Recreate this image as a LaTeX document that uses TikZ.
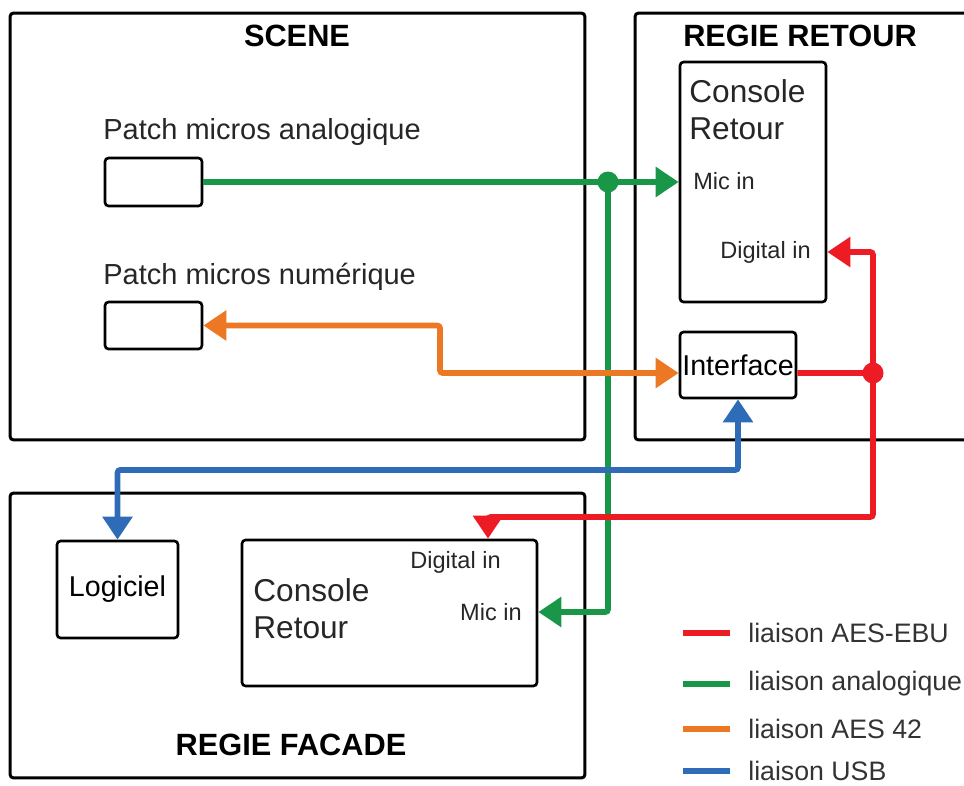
\documentclass[tikz,border=0pt]{standalone}
\usepackage{fontspec}
\setmainfont{Liberation Sans}
\usetikzlibrary{arrows.meta, positioning, calc}
\definecolor{aesred}{RGB}{237,28,36}
\definecolor{anagreen}{RGB}{26,150,72}
\definecolor{aesorange}{RGB}{237,120,35}
\definecolor{usbblue}{RGB}{46,108,184}

\begin{document}
\begin{tikzpicture}[x=0.02cm, y=-0.02cm,
  room/.style={rectangle, draw, line width=1.7pt, rounded corners=2pt, inner sep=0pt},
  box/.style={rectangle, draw, line width=1.5pt, rounded corners=2pt, inner sep=0pt,
              font=\fontsize{16.3}{19}\selectfont},
  title/.style={font=\bfseries\fontsize{17.5}{20}\selectfont, inner sep=0pt},
  lbl/.style={font=\fontsize{16.5}{19}\selectfont, text=black!85, inner sep=0pt},
  big/.style={font=\fontsize{18}{21}\selectfont, text=black!85, inner sep=0pt, align=left},
  port/.style={font=\fontsize{13.4}{16}\selectfont, text=black!85, inner sep=0pt},
  link/.style={draw=#1, line width=3.2pt, rounded corners=1.5pt,
               >={Triangle[length=0.46cm, width=0.58cm]}},
  dot/.style={circle, fill=#1, inner sep=0pt, minimum size=0.42cm},
  leg/.style={font=\fontsize{15.2}{18}\selectfont, text=black!80, anchor=west, inner sep=0pt},
  swatch/.style={draw=#1, line width=3.8pt},
]
  \useasboundingbox (0,0) rectangle (964,785);

  % Rooms
  \node[room, minimum width=11.5cm, minimum height=8.54cm] (scene) at (297.5,226.5) {};
  \node[room, minimum width=6.9cm, minimum height=8.54cm] (retour) at (807.5,226.5) {};
  \node[room, minimum width=11.5cm, minimum height=5.7cm] (facade) at (297.5,635.5) {};
  \node[title] (tscene) at (297,36) {SCENE};
  \node[title] (tretour) at (800,36) {REGIE RETOUR};
  \node[title] (tfacade) at (291,745) {REGIE FACADE};

  % Scene
  \node[lbl, anchor=west] (tana) at (103,132) {Patch micros analogique};
  \node[box, minimum width=1.94cm, minimum height=0.96cm] (pana) at (153.5,182) {};
  \node[lbl, anchor=west] (tnum) at (103,277) {Patch micros numérique};
  \node[box, minimum width=1.94cm, minimum height=0.94cm] (pnum) at (153.5,325.5) {};

  % Regie retour
  \node[box, minimum width=2.92cm, minimum height=4.8cm] (conr) at (753,182) {};
  \node[big, anchor=north west] (tconr) at (689,79) {Console\\Retour};
  \node[port, anchor=west] (micr) at (693,181) {Mic in};
  \node[port, anchor=east] (digr) at (811,252) {Digital in};
  \node[box, minimum width=2.32cm, minimum height=1.32cm] (iface) at (738,365) {Interface};

  % Regie facade
  \node[box, minimum width=2.42cm, minimum height=1.94cm] (logi) at (117.5,589.5) {Logiciel};
  \node[box, minimum width=5.9cm, minimum height=2.92cm] (conf) at (389.5,613) {};
  \node[big, anchor=north west] (tconf) at (253,578) {Console\\Retour};
  \node[port, anchor=east] (digf) at (501,562) {Digital in};
  \node[port, anchor=east] (micf) at (522,612) {Mic in};

  % Analog
  \draw[link=anagreen, ->] (pana) -- (conr);
  \node[dot=anagreen] (gsplit) at (608,182) {};
  \draw[link=anagreen, ->] (gsplit.center) |- (conf.east |- micf);

  % AES 42
  \draw[link=aesorange, <->] (pnum.east) -| (440,350) |- ([yshift=-0.16cm]iface.west);

  % AES-EBU
  \node[dot=aesred] (rsplit) at (873,373) {};
  \draw[link=aesred] ([yshift=-0.16cm]iface.east) -- (rsplit.center);
  \draw[link=aesred, ->] (rsplit.center) |- (conr.east |- digr);
  \draw[link=aesred, ->] (rsplit.center) |- (488,517) -- (conf.north -| 488,517);

  % USB
  \draw[link=usbblue, <->] (iface.south) |- (400,470) -| (logi.north);

  % Legend
  \node[leg] (lg1) at (748,633) {liaison AES-EBU};
  \node[leg] (lg2) at (748,684) {liaison analogique};
  \node[leg] (lg3) at (748,729) {liaison AES 42};
  \node[leg] (lg4) at (748,771) {liaison USB};
  \draw[swatch=aesred] ([xshift=-0.36cm]lg1.west) -- ++(-47,0);
  \draw[swatch=anagreen] ([xshift=-0.36cm]lg2.west) -- ++(-47,0);
  \draw[swatch=aesorange] ([xshift=-0.36cm]lg3.west) -- ++(-47,0);
  \draw[swatch=usbblue] ([xshift=-0.36cm]lg4.west) -- ++(-47,0);
\end{tikzpicture}
\end{document}
